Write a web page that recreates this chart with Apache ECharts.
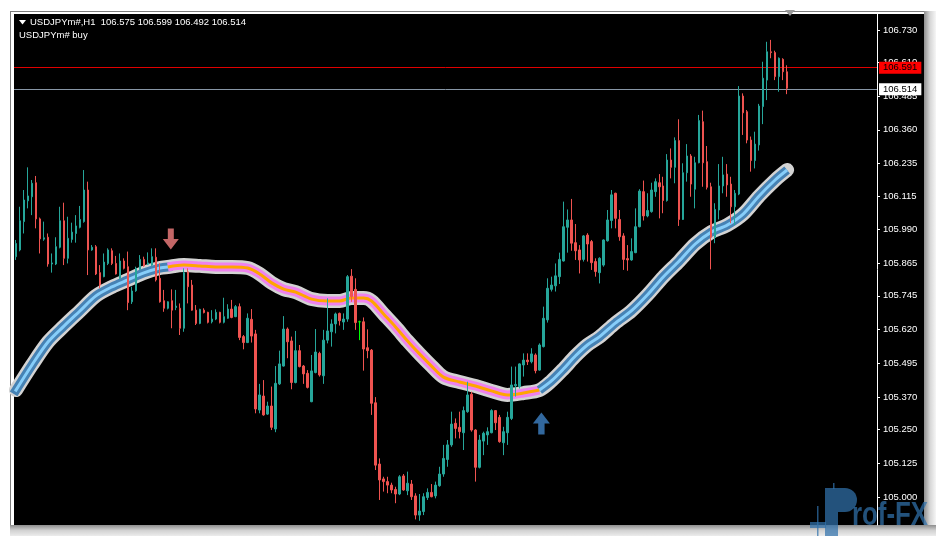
<!DOCTYPE html>
<html><head><meta charset="utf-8">
<script src="https://cdn.jsdelivr.net/npm/echarts/dist/echarts.min.js"></script>
<style>html,body{margin:0;padding:0;background:#fff}#c{width:936px;height:536px}</style>
</head><body><div id="c"></div><script>
// ---- data (USDJPYm#, H1) ----
const openP = [
105.890,105.915,106.020,106.097,106.112,106.164,106.030,105.955,105.962,105.863,
105.863,105.925,106.023,105.884,105.954,105.976,105.999,106.020,106.137,105.915,
105.927,105.831,105.816,105.865,105.912,105.865,105.810,105.874,105.853,105.723,
105.764,105.843,105.880,105.862,105.859,105.888,105.810,105.727,105.699,105.727,
105.702,105.699,105.625,105.834,105.785,105.692,105.643,105.692,105.684,105.649,
105.659,105.684,105.647,105.662,105.696,105.668,105.705,105.594,105.572,105.658,
105.604,105.322,105.374,105.307,105.337,105.252,105.419,105.485,105.622,105.578,
105.424,105.542,105.485,105.458,105.353,105.461,105.532,105.449,105.581,105.612,
105.641,105.680,105.648,105.659,105.818,105.769,105.649,105.649,105.553,105.544,
105.349,105.122,105.067,105.057,105.044,105.028,105.011,105.078,105.023,105.048,
105.004,104.933,104.946,104.998,105.017,105.004,105.042,105.085,105.139,105.193,
105.273,105.258,105.238,105.316,105.381,105.248,105.110,105.207,105.230,105.238,
105.320,105.295,105.201,105.238,105.291,105.412,105.409,105.489,105.507,105.501,
105.526,105.470,105.557,105.656,105.769,105.782,105.816,105.874,105.999,106.026,
105.942,105.915,105.880,105.970,105.946,105.872,105.831,105.859,105.949,106.024,
106.125,106.028,105.967,105.883,105.878,105.905,106.001,106.131,106.041,106.057,
106.131,106.164,106.152,106.098,106.248,106.221,106.320,106.028,106.201,106.263,
106.140,106.238,106.390,106.242,106.149,105.962,106.063,106.152,106.196,106.159,
106.075,106.122,106.485,106.427,106.322,106.246,106.304,106.446,106.544,106.649,
106.646,106.557,106.621,106.575];
const highP = [
105.952,106.075,106.137,106.221,106.174,106.189,106.035,106.020,105.976,105.902,
105.962,106.075,106.090,106.038,106.016,106.044,106.078,106.211,106.168,105.933,
105.933,105.859,105.902,105.921,105.921,105.893,105.902,105.884,105.909,105.779,
105.853,105.896,105.890,105.906,105.921,105.921,105.865,105.767,105.725,105.769,
105.767,105.717,105.847,105.847,105.804,105.711,105.697,105.699,105.686,105.692,
105.695,105.686,105.738,105.714,105.730,105.711,105.717,105.600,105.680,105.696,
105.619,105.419,105.433,105.353,105.409,105.485,105.542,105.670,105.628,105.594,
105.615,105.563,105.489,105.470,105.526,105.622,105.538,105.619,105.736,105.658,
105.683,105.683,105.680,105.822,105.844,105.810,105.653,105.665,105.621,105.548,
105.370,105.143,105.075,105.075,105.053,105.038,105.081,105.085,105.094,105.063,
105.014,105.011,105.014,105.032,105.048,105.057,105.112,105.193,105.211,105.316,
105.291,105.316,105.335,105.427,105.390,105.251,105.230,105.242,105.258,105.325,
105.322,105.304,105.260,105.316,105.483,105.483,105.495,105.532,105.532,105.551,
105.532,105.569,105.705,105.810,105.816,105.865,105.905,106.094,106.065,106.104,
106.011,105.933,105.970,105.977,105.952,105.884,105.888,105.954,106.063,106.137,
106.127,106.063,105.977,105.933,105.958,106.069,106.140,106.172,106.125,106.164,
106.180,106.196,106.186,106.270,106.291,106.332,106.399,106.236,106.307,106.270,
106.260,106.415,106.431,106.300,106.164,106.088,106.233,106.260,106.233,106.186,
106.137,106.522,106.495,106.433,106.335,106.353,106.456,106.612,106.686,106.693,
106.653,106.628,106.625,106.599];
const lowP = [
105.878,105.910,105.976,106.069,106.044,105.995,105.902,105.949,105.853,105.831,
105.859,105.921,105.859,105.865,105.942,105.942,105.995,106.016,105.822,105.912,
105.822,105.773,105.814,105.859,105.859,105.824,105.806,105.843,105.692,105.715,
105.760,105.841,105.853,105.859,105.856,105.798,105.720,105.686,105.695,105.625,
105.692,105.600,105.612,105.717,105.690,105.637,105.640,105.680,105.643,105.643,
105.655,105.643,105.643,105.660,105.662,105.666,105.581,105.547,105.570,105.572,
105.310,105.310,105.301,105.304,105.248,105.240,105.415,105.483,105.514,105.399,
105.421,105.480,105.419,105.402,105.351,105.458,105.446,105.419,105.569,105.557,
105.606,105.635,105.619,105.649,105.723,105.619,105.581,105.468,105.514,105.304,
105.100,104.989,105.020,105.014,105.014,104.977,105.007,105.023,105.007,104.989,
104.917,104.912,104.933,104.989,104.999,104.995,105.038,105.075,105.112,105.186,
105.217,105.217,105.174,105.312,105.242,105.057,105.106,105.155,105.193,105.236,
105.248,105.201,105.155,105.193,105.285,105.372,105.402,105.446,105.489,105.495,
105.458,105.468,105.554,105.646,105.761,105.761,105.789,105.872,105.905,105.912,
105.878,105.828,105.872,105.872,105.841,105.816,105.791,105.853,105.946,105.995,
105.995,105.949,105.841,105.838,105.875,105.903,105.999,106.024,106.036,106.053,
106.112,106.032,106.051,106.094,106.180,106.162,106.004,106.026,106.168,106.112,
106.069,106.236,106.149,106.139,105.843,105.940,106.028,106.125,106.112,106.014,
106.007,106.118,106.341,106.310,106.205,106.217,106.283,106.381,106.470,106.625,
106.544,106.501,106.544,106.492];
const closeP = [
105.939,106.023,106.100,106.115,106.162,106.030,105.956,105.960,105.863,105.867,
105.927,106.023,105.884,105.958,105.981,106.004,106.028,106.137,105.915,105.925,
105.826,105.785,105.870,105.915,105.865,105.826,105.874,105.847,105.720,105.763,
105.847,105.880,105.856,105.867,105.890,105.804,105.723,105.699,105.723,105.692,
105.707,105.625,105.831,105.779,105.692,105.643,105.695,105.683,105.647,105.659,
105.684,105.647,105.668,105.696,105.665,105.705,105.591,105.572,105.662,105.596,
105.326,105.378,105.304,105.337,105.258,105.421,105.493,105.622,105.575,105.424,
105.542,105.483,105.456,105.406,105.467,105.537,105.452,105.581,105.615,105.641,
105.678,105.653,105.659,105.816,105.742,105.646,105.649,105.548,105.542,105.347,
105.118,105.063,105.057,105.044,105.026,105.011,105.075,105.026,105.051,105.001,
104.933,104.948,105.001,105.017,105.001,105.044,105.085,105.143,105.193,105.270,
105.254,105.242,105.320,105.378,105.248,105.110,105.211,105.236,105.242,105.320,
105.275,105.205,105.242,105.295,105.415,105.417,105.493,105.507,105.501,105.530,
105.468,105.563,105.662,105.773,105.785,105.819,105.880,106.001,106.026,105.940,
105.912,105.878,105.967,105.937,105.868,105.835,105.884,105.952,106.026,106.119,
106.032,105.964,105.880,105.878,105.909,106.001,106.133,106.041,106.061,106.137,
106.168,106.149,106.098,106.248,106.221,106.320,106.028,106.201,106.263,106.159,
106.238,106.394,106.238,106.147,105.962,106.065,106.152,106.193,106.156,106.075,
106.125,106.485,106.423,106.322,106.246,106.307,106.448,106.551,106.649,106.646,
106.557,106.625,106.575,106.514];

// trend line [barIndex, value]: rising part, falling part, rising part
const trendUpA = [[0,105.396],[4,105.489],[8,105.574],[12,105.633],[16,105.689],[20,105.745],[24,105.778],[28,105.804],[32,105.830],[36,105.848],[38,105.852]];
const trendDown = [[38,105.852],[42,105.859],[46,105.856],[50,105.852],[54,105.852],[58,105.848],[61,105.826],[64,105.793],[67,105.770],[70,105.759],[74,105.733],[78,105.726],[81,105.726],[84,105.737],[87,105.737],[89,105.726],[92,105.678],[95,105.630],[98,105.578],[101,105.530],[104,105.485],[107,105.444],[111,105.426],[115,105.411],[119,105.393],[123,105.378],[127,105.385],[131,105.396]];
const trendUpB = [[131,105.396],[134,105.430],[137,105.474],[140,105.522],[143,105.563],[146,105.593],[150,105.644],[154,105.689],[158,105.748],[162,105.815],[166,105.874],[170,105.937],[174,105.981],[178,106.007],[182,106.048],[186,106.115],[190,106.174],[193,106.211]];
const signalDown = [[39,105.956]];
const signalUp = [[131,105.272]];

const priceTicks = [105.000,105.125,105.250,105.370,105.495,105.620,105.745,105.865,105.990,106.115,106.235,106.360,106.485,106.610,106.730];
const askPrice = 106.591;
const bidPrice = 106.514;
const headerText = 'USDJPYm#,H1  106.575 106.599 106.492 106.514';
const subText = 'USDJPYm# buy';
const slotCount = 216; // bars + empty chart shift space
const categories = Array.from({length: slotCount}, (_, i) => 'bar' + i);

// ---- build ----
const BULL = '#26a69a', BEAR = '#ef5350', DOJI = '#00ff00';
const candleData = openP.map((o, i) => {
  const v = [o, closeP[i], lowP[i], highP[i]];
  if (o === closeP[i]) return {value: v, itemStyle: {color: DOJI, color0: DOJI, borderColor: DOJI, borderColor0: DOJI, borderColorDoji: DOJI}};
  return v;
});
const bandAll = trendUpA.concat(trendDown.slice(1), trendUpB.slice(1));

function band(data, color, width, z, cap) {
  return {type: 'line', data: data, symbol: 'none', showSymbol: false, smooth: 0.3, silent: true,
    animation: false, z: z, clip: true,
    lineStyle: {color: color, width: width, cap: cap || 'butt', join: 'round'}};
}
const FONT = '"Liberation Sans", Arial, sans-serif';
const WM = 'rgba(49,113,172,0.72)';

const option = {
  backgroundColor: '#ffffff',
  animation: false,
  grid: {left: 14, top: 14, right: 59, bottom: 11, containLabel: false, show: false},
  xAxis: {type: 'category', data: categories, show: false, boundaryGap: true},
  yAxis: {
    type: 'value', position: 'right', min: 104.8963, max: 106.7889,
    axisLine: {show: true, lineStyle: {color: '#ffffff', width: 1}},
    axisTick: {show: true, length: 3, lineStyle: {color: '#ffffff'}, customValues: priceTicks},
    axisLabel: {color: '#ffffff', fontSize: 9.5, fontFamily: FONT, margin: 6, customValues: priceTicks,
      formatter: v => Number(v).toFixed(3)},
    splitLine: {show: false}
  },
  series: [
    band(bandAll, '#d3d3d3', 14, 2, 'round'),
    band(trendUpA, '#4682b4', 9, 3, 'square'),
    band(trendDown, '#ee82ee', 9, 3),
    band(trendUpB, '#4682b4', 9, 3),
    band(trendUpA, '#87cefa', 3, 4, 'square'),
    band(trendDown, '#ffa500', 3, 4),
    band(trendUpB, '#87cefa', 3, 4),
    {
      type: 'candlestick', data: candleData, barWidth: 2, z: 5, animation: false,
      itemStyle: {color: BULL, color0: BEAR, borderColor: BULL, borderColor0: BEAR, borderColorDoji: DOJI, borderWidth: 1},
      markLine: {
        symbol: ['none', 'none'], silent: true, animation: false,
        data: [
          {yAxis: askPrice, lineStyle: {color: '#e00000', width: 1, type: 'solid'},
            label: {show: true, position: 'end', distance: 2, formatter: askPrice.toFixed(3), backgroundColor: '#ff0000',
              color: '#000000', padding: [1, 4, 1, 4], fontSize: 9.5, fontFamily: FONT}},
          {yAxis: bidPrice, lineStyle: {color: '#8796a6', width: 1, type: 'solid'},
            label: {show: true, position: 'end', distance: 2, formatter: bidPrice.toFixed(3), backgroundColor: '#ffffff',
              color: '#000000', padding: [1, 4, 1, 4], fontSize: 9.5, fontFamily: FONT}}
        ]
      }
    },
    {type: 'scatter', data: signalDown, z: 6, silent: true, symbolSize: [16, 21], symbolOffset: [-1, 0],
      symbol: 'path://M5 0 L11 0 L11 10 L16 10 L8 20 L0 10 L5 10 Z', itemStyle: {color: '#f47f7f'}},
    {type: 'scatter', data: signalUp, z: 6, silent: true, symbolSize: [17, 22], symbolOffset: [2, 0],
      symbol: 'path://M8 0 L16 10 L11 10 L11 20 L5 20 L5 10 L0 10 Z', itemStyle: {color: '#3f82c6'}}
  ],
  graphic: [
    {type: 'rect', silent: true, z: -5, shape: {x: 10, y: 11, width: 914, height: 514}, style: {fill: '#7c7c7c'}},
    {type: 'rect', silent: true, z: -4, shape: {x: 11, y: 12, width: 913, height: 513}, style: {fill: '#ffffff'}},
    {type: 'rect', silent: true, z: -3, shape: {x: 14, y: 14, width: 910, height: 511}, style: {fill: '#000000'}},
    {type: 'rect', silent: true, z: -3, shape: {x: 924, y: 11, width: 12, height: 525},
      style: {fill: {type: 'linear', x: 0, y: 0, x2: 1, y2: 0, colorStops: [{offset: 0, color: '#8e8e8e'}, {offset: 0.5, color: '#d6d6d6'}, {offset: 1, color: '#f6f6f6'}]}}},
    {type: 'rect', silent: true, z: -3, shape: {x: 10, y: 525, width: 926, height: 11},
      style: {fill: {type: 'linear', x: 0, y: 0, x2: 0, y2: 1, colorStops: [{offset: 0, color: '#8e8e8e'}, {offset: 0.5, color: '#d2d2d2'}, {offset: 1, color: '#ececec'}]}}},
    {type: 'polygon', silent: true, z: 20, shape: {points: [[19, 20], [26, 20], [22.5, 24.5]]}, style: {fill: '#ffffff'}},
    {type: 'text', silent: true, z: 20, x: 30, y: 22.5, style: {text: headerText, fill: '#ffffff', font: '9.5px ' + FONT, verticalAlign: 'middle'}},
    {type: 'text', silent: true, z: 20, x: 19, y: 35.5, style: {text: subText, fill: '#ffffff', font: '9.5px ' + FONT, verticalAlign: 'middle'}},
    {type: 'polygon', silent: true, z: 20, shape: {points: [[785, 10], [795, 10], [790, 16]]}, style: {fill: '#9a9a9a'}},
    // watermark
    {type: 'rect', silent: true, z: 100, shape: {x: 810, y: 522, width: 16, height: 6}, style: {fill: WM}},
    {type: 'rect', silent: true, z: 100, shape: {x: 817, y: 506, width: 1.5, height: 30}, style: {fill: WM}},
    {type: 'rect', silent: true, z: 100, shape: {x: 833, y: 483, width: 1.5, height: 6}, style: {fill: WM}},
    {type: 'rect', silent: true, z: 100, shape: {x: 825, y: 488, width: 20, height: 24}, style: {fill: WM}},
    {type: 'rect', silent: true, z: 100, shape: {x: 825, y: 512, width: 13, height: 24}, style: {fill: WM}},
    {type: 'sector', silent: true, z: 100, shape: {cx: 845, cy: 500, r0: 0, r: 12, startAngle: -Math.PI / 2, endAngle: Math.PI / 2, clockwise: true}, style: {fill: WM}},
    {type: 'text', silent: true, z: 100, x: 852, y: 516, scaleX: 0.76, style: {text: 'rof-FX', fill: WM, font: 'bold 34px ' + FONT, verticalAlign: 'middle'}}
  ]
};
const chart = echarts.init(document.getElementById('c'), null, {renderer: 'canvas'});
chart.setOption(option);
</script></body></html>
